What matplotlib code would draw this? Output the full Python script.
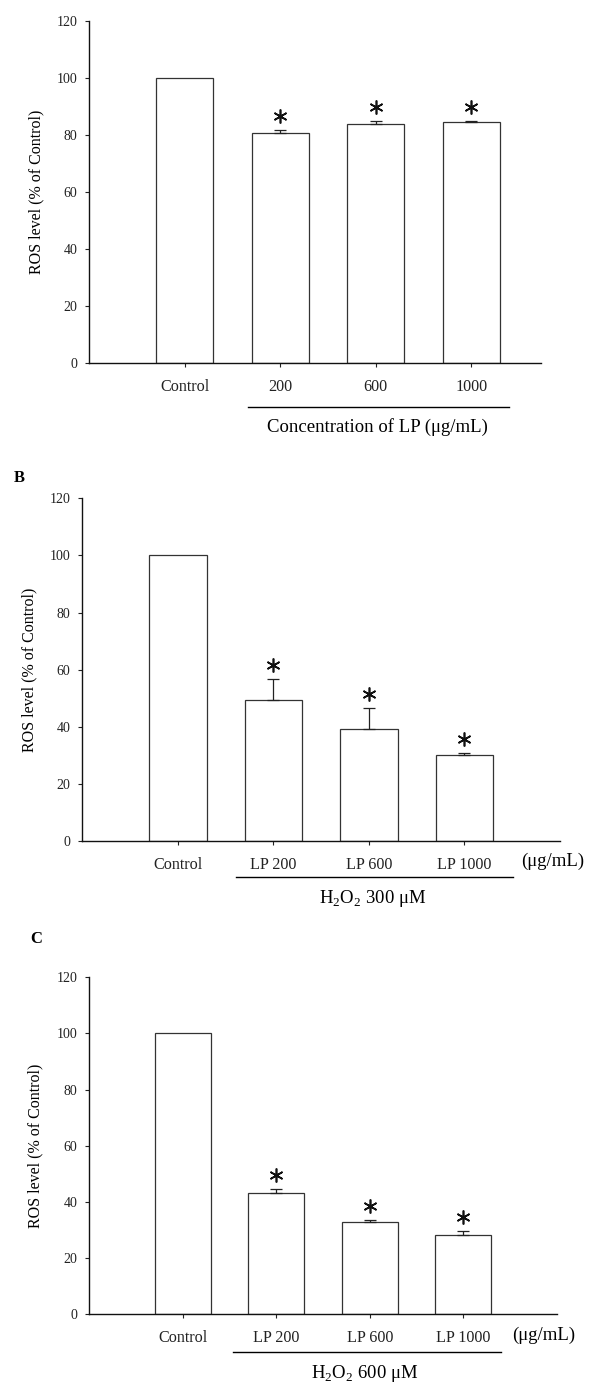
import matplotlib
matplotlib.use("Agg")
import matplotlib.pyplot as plt
from matplotlib import transforms as mtrans

plt.rcParams['font.family'] = ['Liberation Serif', 'DejaVu Serif']
plt.rcParams['mathtext.fontset'] = 'custom'
plt.rcParams['mathtext.rm'] = 'Liberation Serif'

# ---------------- data ----------------
labels_a = ["Control", "200", "600", "1000"]
values_a = [100, 80.5, 83.9, 84.7]
errors_a = [0, 1.1, 1.1, 0.3]
signif_a = [False, True, True, True]

labels_b = ["Control", "LP 200", "LP 600", "LP 1000"]
values_b = [100, 49.5, 39.1, 30.2]
errors_b = [0, 7.3, 7.6, 0.7]
signif_b = [False, True, True, True]

labels_c = ["Control", "LP 200", "LP 600", "LP 1000"]
values_c = [100, 43.0, 32.9, 28.2]
errors_c = [0, 1.4, 0.7, 1.5]
signif_c = [False, True, True, True]

yticks = [0, 20, 40, 60, 80, 100, 120]
ylabel = "ROS level (% of Control)"

W, H = 590, 1382
fig = plt.figure(figsize=(W / 100, H / 100), dpi=100)


def px_axes(left, right, top, bottom):
    return fig.add_axes([left / W, 1 - bottom / H, (right - left) / W, (bottom - top) / H])


def panel(ax, labels, values, errors, signif, xmax, ylab_x):
    x = list(range(1, len(labels) + 1))
    ax.bar(x, values, width=0.6, color="white", edgecolor="#333333", linewidth=0.9, zorder=2)
    xe = [xi for xi, e in zip(x, errors) if e > 0]
    ve = [v for v, e in zip(values, errors) if e > 0]
    ee = [e for e in errors if e > 0]
    ax.errorbar(xe, ve, yerr=[[0] * len(ee), ee], fmt="none", ecolor="#222222",
                elinewidth=0.9, capsize=4.3, capthick=0.9, zorder=3)
    off = mtrans.offset_copy(ax.transData, fig=fig, x=0, y=14, units="dots")
    for xi, v, e, s in zip(x, values, errors, signif):
        if s:
            ax.plot([xi], [v + e], marker=(6, 2, 0), markersize=10, markeredgewidth=1.2,
                    color="#111111", transform=off, clip_on=False, zorder=4)
    ax.set_xlim(0, xmax)
    ax.set_ylim(0, 120)
    ax.set_yticks(yticks)
    ax.set_yticklabels([str(t) for t in yticks], fontsize=10)
    ax.set_xticks(x)
    ax.set_xticklabels(labels, fontsize=11.6)
    ax.tick_params(axis="y", direction="out", length=3, width=0.8, pad=5.5, colors="#222222")
    ax.tick_params(axis="x", direction="out", length=3, width=0.8, pad=8.5, colors="#222222")
    for side in ("top", "right"):
        ax.spines[side].set_visible(False)
    for side in ("left", "bottom"):
        ax.spines[side].set_linewidth(1.0)
        ax.spines[side].set_color("#111111")
    ax.set_ylabel(ylabel, fontsize=11.5)
    ax.yaxis.set_label_coords(ylab_x, 0.5)


def underline(ax, x0, x1, y):
    tr = mtrans.blended_transform_factory(ax.transData, ax.transAxes)
    ax.plot([x0, x1], [y, y], color="black", linewidth=1.0, transform=tr, clip_on=False)


def note(ax, x, y, text, size):
    tr = mtrans.blended_transform_factory(ax.transData, ax.transAxes)
    ax.text(x, y, text, transform=tr, ha="center", va="center", fontsize=size, clip_on=False)


# Panel A
ax_a = px_axes(89.3, 541, 21, 362.7)
panel(ax_a, labels_a, values_a, errors_a, signif_a, 4.73, -0.10)
underline(ax_a, 1.66, 4.40, -0.129)
note(ax_a, 3.02, -0.187, "Concentration of LP (\u03bcg/mL)", 13.5)

# Panel B
ax_b = px_axes(82.3, 560, 498.3, 841)
panel(ax_b, labels_b, values_b, errors_b, signif_b, 5.0, -0.095)
underline(ax_b, 1.61, 4.51, -0.106)
note(ax_b, 3.04, -0.169, "H$_2$O$_2$ 300 \u03bcM", 13.5)
note(ax_b, 4.92, -0.060, "(\u03bcg/mL)", 13.5)
fig.text(19 / W, 1 - 478.3 / H, "B", fontsize=12, fontweight="bold", ha="center", va="center")

# Panel C
ax_c = px_axes(89, 557, 977.3, 1314)
panel(ax_c, labels_c, values_c, errors_c, signif_c, 5.0, -0.097)
underline(ax_c, 1.535, 4.40, -0.114)
note(ax_c, 2.95, -0.176, "H$_2$O$_2$ 600 \u03bcM", 13.5)
note(ax_c, 4.86, -0.062, "(\u03bcg/mL)", 13.5)
fig.text(35.7 / W, 1 - 939.3 / H, "C", fontsize=12, fontweight="bold", ha="center", va="center")

fig.savefig("out.png", dpi=100, facecolor="white")
